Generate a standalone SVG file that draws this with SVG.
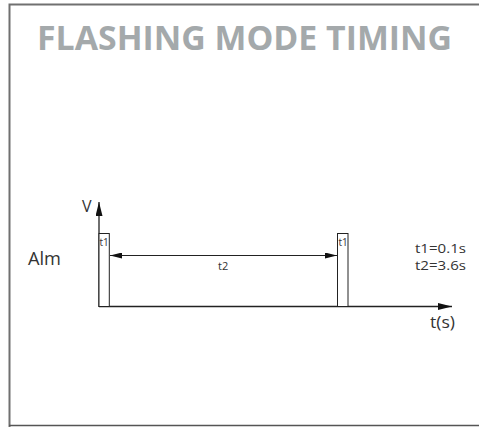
<svg xmlns="http://www.w3.org/2000/svg" width="479" height="427" viewBox="0 0 479 427">
<style>
.lbl{font-family:"Open Sans","Liberation Sans",sans-serif;fill:#333}
.ax{stroke:#222;stroke-width:1.3;fill:none}
.pulse{fill:#fff;stroke:#222;stroke-width:1}
</style>
<defs>
<marker id="ah" viewBox="0 0 12 6" refX="12" refY="3" markerWidth="12" markerHeight="6" markerUnits="userSpaceOnUse" orient="auto-start-reverse">
<path d="M0,0 L12,3 L0,6 Z" fill="#111"/>
</marker>
<marker id="ahB" viewBox="0 0 14 7" refX="14" refY="3.5" markerWidth="14" markerHeight="7" markerUnits="userSpaceOnUse" orient="auto">
<path d="M0,0 L14,3.5 L0,7 Z" fill="#111"/>
</marker>
</defs>
<rect width="479" height="427" fill="#fff"/>
<g id="frame">
<path d="M9.5,427 V4.5 H479" fill="none" stroke="#707070" stroke-width="2"/>
<path d="M9,425.5 H479" fill="none" stroke="#555" stroke-width="1.5"/>
</g>
<g id="title">
<text x="37" y="50" font-family="'Open Sans','Liberation Sans',sans-serif" font-weight="700" font-size="34" fill="#a4a9ab" textLength="415" lengthAdjust="spacingAndGlyphs">FLASHING MODE TIMING</text>
</g>
<g id="connectors">
<line class="ax" x1="99" y1="307" x2="99" y2="202" marker-end="url(#ahB)"/>
<line class="ax" x1="99" y1="306.5" x2="452" y2="306.5" marker-end="url(#ahB)"/>
<line x1="110" y1="255.5" x2="337" y2="255.5" stroke="#222" stroke-width="1" marker-start="url(#ah)" marker-end="url(#ah)"/>
</g>
<g id="pulse1">
<rect class="pulse" x="99" y="233.5" width="10.3" height="73"/>
<text class="lbl" x="99.5" y="246" font-size="10">t1</text>
</g>
<g id="pulse2">
<rect class="pulse" x="337.5" y="233.5" width="10.5" height="73"/>
<text class="lbl" x="338.5" y="246" font-size="10">t1</text>
</g>
<g id="labels">
<text class="lbl" x="82" y="212" font-size="16">V</text>
<text class="lbl" x="28" y="265" font-size="18" textLength="33" lengthAdjust="spacingAndGlyphs">Alm</text>
<text class="lbl" x="218" y="270" font-size="11">t2</text>
<text class="lbl" x="415" y="253" font-size="12" textLength="51" lengthAdjust="spacingAndGlyphs">t1=0.1s</text>
<text class="lbl" x="415" y="270" font-size="12" textLength="51" lengthAdjust="spacingAndGlyphs">t2=3.6s</text>
<text class="lbl" x="430" y="328" font-size="17" textLength="25" lengthAdjust="spacingAndGlyphs">t(s)</text>
</g>
</svg>
